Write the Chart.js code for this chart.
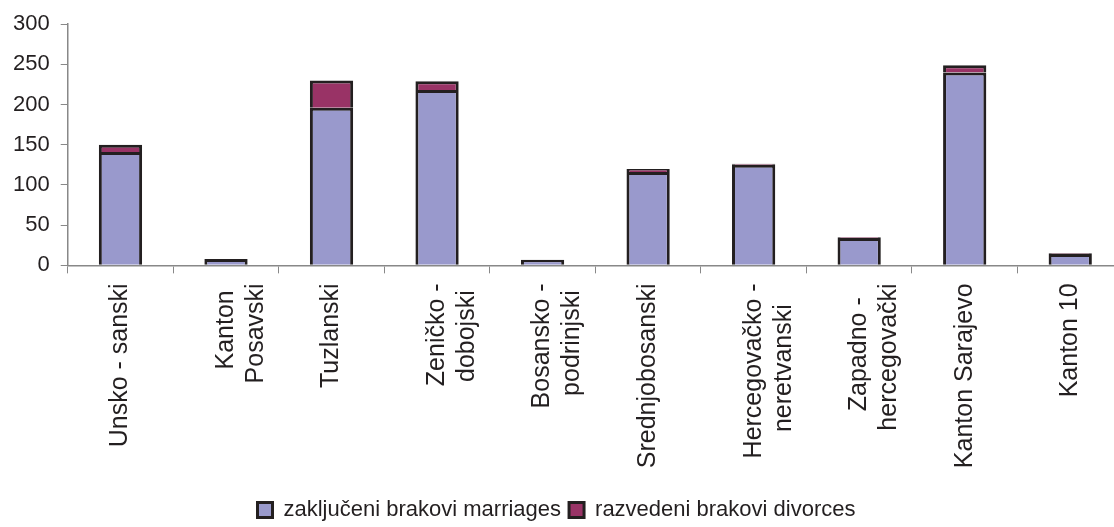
<!DOCTYPE html>
<html>
<head>
<meta charset="utf-8">
<script src="https://cdn.jsdelivr.net/npm/chart.js@4"></script>
<style>
  html, body { margin: 0; padding: 0; background: #fff; overflow: hidden; width: 1114px; height: 527px; }
  #wrap { width: 1123px; height: 527px; position: relative; }
</style>
</head>
<body>
<div id="wrap"><canvas id="brakoviChart"></canvas></div>
<script>
const kantoni = [
  ['Unsko - sanski'],
  ['Kanton', 'Posavski'],
  ['Tuzlanski'],
  ['Zeničko -', 'dobojski'],
  ['Bosansko -', 'podrinjski'],
  ['Srednjobosanski'],
  ['Hercegovačko -', 'neretvanski'],
  ['Zapadno -', 'hercegovački'],
  ['Kanton Sarajevo'],
  ['Kanton 10'],
];
const zakljuceni = [141, 8, 196, 218, 7, 116, 125, 34, 240, 14];
const razvedeni = [9, 0, 34, 11, 0, 4, 1.5, 1, 9, 1];
const yTicks = [0, 50, 100, 150, 200, 250, 300];

document.addEventListener('DOMContentLoaded', function () {
  const ctx = document.getElementById('brakoviChart').getContext('2d');
  const family = '"Liberation Sans", Arial, sans-serif';
  const textColor = '#231f20';
  const labelSize = 25;

  // rotated labels are end-aligned, pad short lines so each label block looks centred
  const measure = document.createElement('canvas').getContext('2d');
  measure.font = `${labelSize}px ${family}`;
  const spaceWidth = measure.measureText(' ').width;
  const centerLines = (lines) => {
    if (lines.length < 2) return lines;
    const widths = lines.map((l) => measure.measureText(l).width);
    const max = Math.max(...widths);
    return lines.map((l, i) => l + ' '.repeat(Math.round((max - widths[i]) / 2 / spaceWidth)));
  };

  const legendShift = {
    id: 'legendShift',
    afterLayout(chart) {
      chart.legend.left -= 6;
      chart.legend.right -= 6;
      chart.legend.top += 4;
      chart.legend.bottom += 4;
    },
  };

  new Chart(ctx, {
    type: 'bar',
    data: {
      labels: kantoni,
      datasets: [
        {
          label: 'zaključeni brakovi marriages',
          data: zakljuceni,
          backgroundColor: '#9999cc',
          borderColor: '#231f20',
          borderWidth: 3,
          borderSkipped: 'start',
        },
        {
          label: 'razvedeni brakovi divorces',
          data: razvedeni,
          backgroundColor: '#993366',
          borderColor: '#231f20',
          borderWidth: 3,
          borderSkipped: 'start',
        },
      ],
    },
    plugins: [legendShift],
    options: {
      responsive: true,
      maintainAspectRatio: false,
      animation: false,
      layout: { padding: { top: 16, right: 0, left: 2, bottom: 0 } },
      datasets: { bar: { categoryPercentage: 1, barPercentage: 0.41 } },
      plugins: {
        tooltip: { enabled: false },
        legend: {
          position: 'bottom',
          title: { display: true, text: '', font: { size: 4 }, padding: { top: 4, bottom: 0 } },
          labels: {
            font: { family: family, size: 22 },
            color: textColor,
            boxWidth: 15,
            boxHeight: 15,
            padding: 8,
          },
        },
      },
      scales: {
        x: {
          stacked: true,
          grid: { display: true, drawOnChartArea: false, color: '#888', tickLength: 8 },
          border: { color: '#888', width: 1.5 },
          ticks: {
            font: { family: family, size: labelSize },
            color: textColor,
            minRotation: 90,
            maxRotation: 90,
            autoSkip: false,
            padding: 10,
            callback: (value, index) => centerLines(kantoni[index]),
          },
        },
        y: {
          stacked: true,
          min: 0,
          max: 300,
          afterBuildTicks: (axis) => { axis.ticks = yTicks.map((v) => ({ value: v })); },
          grid: { display: true, drawOnChartArea: false, color: '#888', tickLength: 7 },
          border: { color: '#888', width: 1.5 },
          ticks: { font: { family: family, size: 22 }, color: textColor, padding: 11 },
        },
      },
    },
  });
});
</script>
</body>
</html>
